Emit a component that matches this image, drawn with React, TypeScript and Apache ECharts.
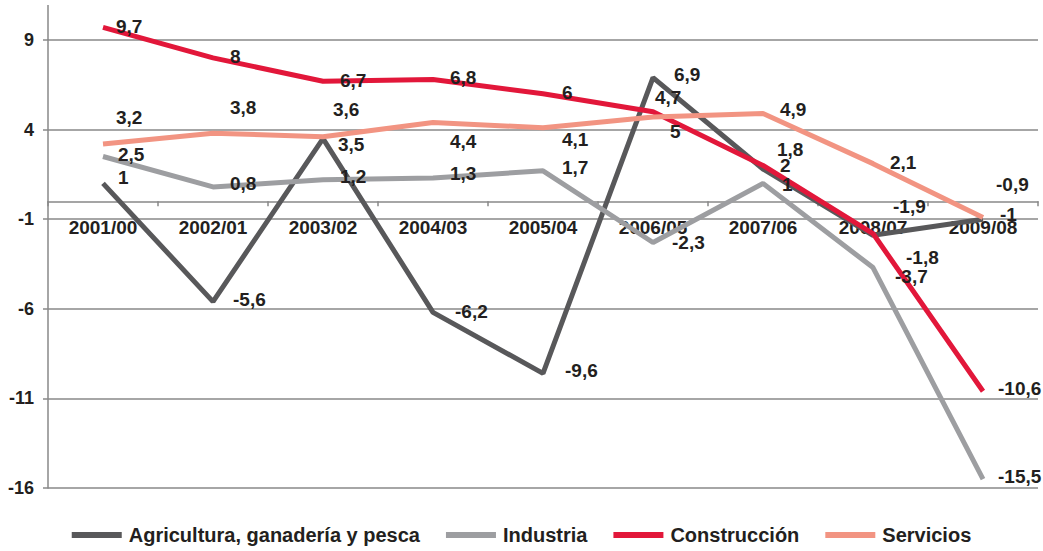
import React, { useEffect, useRef } from "react";
import * as echarts from "echarts";

const categories = ["2001/00", "2002/01", "2003/02", "2004/03", "2005/04", "2006/05", "2007/06", "2008/07", "2009/08"];
const agricultura = [1, -5.6, 3.5, -6.2, -9.6, 6.9, 1.8, -1.9, -1];
const industria = [2.5, 0.8, 1.2, 1.3, 1.7, -2.3, 1, -3.7, -15.5];
const construccion = [9.7, 8, 6.7, 6.8, 6, 5, 2, -1.8, -10.6];
const servicios = [3.2, 3.8, 3.6, 4.4, 4.1, 4.7, 4.9, 2.1, -0.9];
const seriesNames = ["Agricultura, ganadería y pesca", "Industria", "Construcción", "Servicios"];
const yMin = -16;
const yMax = 9;
const yStep = 5;

// label placement nudges (styling only)
const agriLabelNudge = [[3, -6], [8, -2], [3, 6], [10, -1], [10, -3], [9, -3], [2, -20], [8, -29], [5, -5]];
const indLabelNudge = [[3, -2], [5, -3], [5, -3], [5, -4], [7, -3], [7, 0], [7, 1], [10, 9], [3, -3]];
const consLabelNudge = [[1, -1], [5, -1], [5, -1], [5, -2], [7, -1], [5, 20], [5, 0], [21, 24], [3, -3]];
const servLabelNudge = [[1, -26], [5, -26], [-2, -27], [5, 19], [7, 12], [-10, -20], [5, -4], [5, -1], [1, -33]];

const colors = ["#58585a", "#9d9ea1", "#e2173a", "#f29482"];
const FONT = "'Liberation Sans', Arial, sans-serif";
const TEXT = "#231f20";
const W = 1043;
const H = 551;
const GRID_TOP = 40;
const GRID_BOTTOM = 63;

function fmt(v: number) {
  return String(v).replace(".", ",");
}

function buildSeries(name: string, values: number[], nudges: number[][], color: string) {
  return {
    name,
    type: "line",
    data: values.map((v, i) => ({ value: v, label: { offset: nudges[i] } })),
    symbol: "circle",
    symbolSize: 0,
    showSymbol: true,
    clip: false,
    lineStyle: { color, width: 5 },
    itemStyle: { color },
    label: {
      show: true,
      position: "right",
      distance: 12,
      formatter: (p: any) => fmt(p.value),
      color: TEXT,
      fontFamily: FONT,
      fontWeight: "bold",
      fontSize: 19,
    },
  };
}

export default function App() {
  const ref = useRef<HTMLDivElement>(null);
  useEffect(() => {
    if (!ref.current) return;
    const chart = echarts.init(ref.current, undefined, { renderer: "svg" });
    const plotH = H - GRID_TOP - GRID_BOTTOM;
    const zeroOffset = -((0 - yMin) / (yMax - yMin)) * plotH;
    chart.setOption({
      animation: false,
      backgroundColor: "#ffffff",
      grid: { left: 48, right: 5, top: GRID_TOP, bottom: GRID_BOTTOM, containLabel: false },
      legend: {
        bottom: 1,
        left: "center",
        icon: "rect",
        itemWidth: 50,
        itemHeight: 6,
        itemGap: 26,
        data: seriesNames,
        textStyle: { color: TEXT, fontFamily: FONT, fontWeight: "bold", fontSize: 20, padding: [0, 0, 0, 2] },
      },
      xAxis: {
        type: "category",
        data: categories,
        boundaryGap: true,
        position: "bottom",
        offset: zeroOffset,
        axisLine: { show: true, onZero: false, lineStyle: { color: "#888888", width: 1.5 } },
        axisTick: { show: true, alignWithLabel: false, length: 5, lineStyle: { color: "#888888", width: 1.5 } },
        axisLabel: { margin: 17, color: TEXT, fontFamily: FONT, fontWeight: "bold", fontSize: 19 },
        splitLine: { show: false },
      },
      yAxis: {
        type: "value",
        min: yMin,
        max: yMax,
        interval: yStep,
        axisLine: { show: true, lineStyle: { color: "#888888", width: 1.5 } },
        axisTick: { show: true, length: 5, lineStyle: { color: "#888888", width: 1.5 } },
        axisLabel: { margin: 14, color: TEXT, fontFamily: FONT, fontWeight: "bold", fontSize: 18 },
        splitLine: { show: true, lineStyle: { color: "#888888", width: 1.5 } },
      },
      graphic: [
        {
          type: "line",
          shape: { x1: 48, y1: 5, x2: 48, y2: GRID_TOP },
          style: { stroke: "#888888", lineWidth: 1.5 },
        },
      ],
      series: [
        buildSeries(seriesNames[0], agricultura, agriLabelNudge, colors[0]),
        buildSeries(seriesNames[1], industria, indLabelNudge, colors[1]),
        buildSeries(seriesNames[2], construccion, consLabelNudge, colors[2]),
        buildSeries(seriesNames[3], servicios, servLabelNudge, colors[3]),
      ],
    });
    return () => chart.dispose();
  }, []);
  return (
    <div
      ref={ref}
      style={{ position: "fixed", left: 0, top: 0, width: W, height: H, background: "#fff" }}
    />
  );
}
